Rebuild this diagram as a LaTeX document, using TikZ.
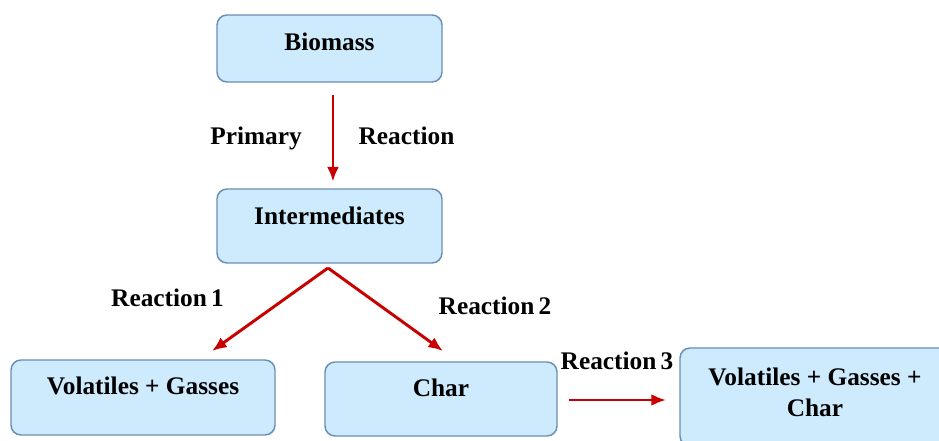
\documentclass[tikz,border=0pt]{standalone}
\usepackage{fontspec}
\setmainfont{Liberation Serif}
\usetikzlibrary{arrows.meta}
\definecolor{boxfill}{HTML}{CDEBFC}
\definecolor{boxline}{HTML}{6C8EB5}
\definecolor{reactred}{HTML}{C80000}
\tikzset{
  stage/.style={draw=boxline, fill=boxfill, line width=1.1pt, rounded corners=7.5pt,
    inner sep=0pt, align=center},
  flow/.style={draw=reactred, line width=2.2pt, -{Latex[length=11pt,width=9pt]}},
  tag/.style={anchor=base, inner sep=0pt}
}
\begin{document}
\begin{tikzpicture}[x=0.75pt, y=-0.75pt, font=\fontsize{19}{24}\selectfont\bfseries]
\useasboundingbox (0,0) rectangle (939,441);
\clip (0,0) rectangle (939,441);
\node [stage, minimum width=168.75pt, minimum height=50.25pt, text height=3.6pt, text depth=0pt] (biomass) at (329.5,48.5) {Biomass};
\node [stage, minimum width=168.75pt, minimum height=55.5pt, text height=0pt, text depth=2.4pt] (inter) at (329.5,226) {Intermediates};
\node [stage, minimum width=198pt, minimum height=56.25pt, text height=0pt, text depth=3.9pt] (volgas) at (143,397.5) {Volatiles + Gasses};
\node [stage, minimum width=174pt, minimum height=55.5pt, text height=0pt, text depth=3.9pt] (char) at (441,399) {Char};
\node [stage, minimum width=202.5pt, minimum height=73.5pt, text height=30pt, text depth=0pt] (product) at (815,397) {Volatiles + Gasses +\\Char};
\coordinate (split) at (328,268);
\coordinate (tipL) at (212,351);
\coordinate (tipR) at (443,351);
\coordinate (startC) at (569,400);
\coordinate (tipC) at (666,400);
\draw [flow, shorten <=9pt, shorten >=5pt] ([xshift=2.6pt]biomass.south) -- ([xshift=2.6pt]inter.north);
\draw [flow] (split) -- (tipL);
\draw [flow] (split) -- (tipR);
\draw [flow] (startC) -- (tipC);
\node [tag] (primary) at (256,145) {Primary};
\node [tag] (primreact) at (406.5,145) {Reaction};
\node [tag] (react1) at (167.5,307) {Reaction\,1};
\node [tag] (react2) at (495,315) {Reaction\,2};
\node [tag] (react3) at (617,370) {Reaction\,3};
\end{tikzpicture}
\end{document}
